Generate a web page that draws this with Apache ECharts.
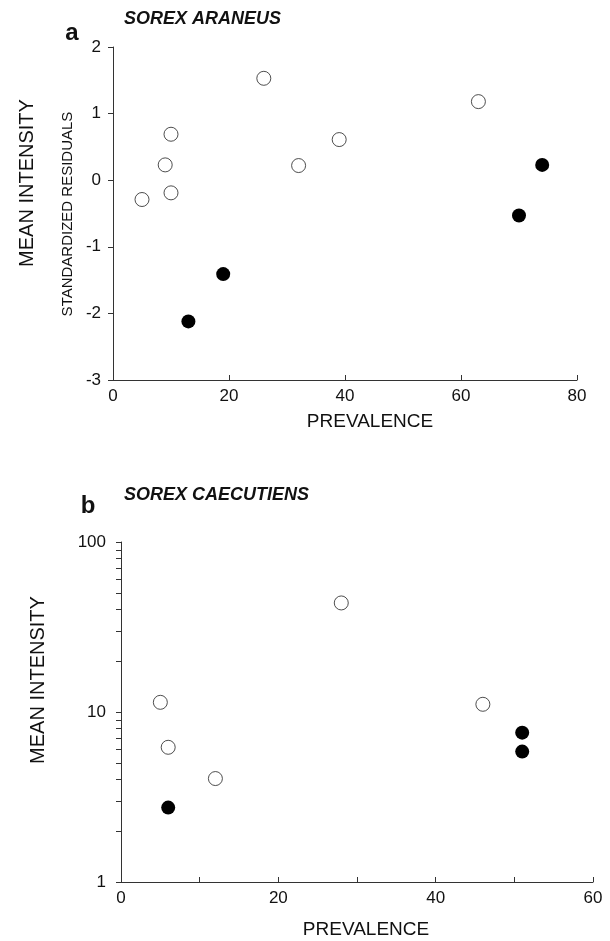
<!DOCTYPE html>
<html>
<head>
<meta charset="utf-8">
<script src="https://cdn.jsdelivr.net/npm/echarts@6/dist/echarts.min.js"></script>
<style>
html, body { margin: 0; padding: 0; background: #fff; }
#main { width: 610px; height: 941px; }
</style>
</head>
<body>
<div id="main"></div>
<script>
// a: Sorex araneus  -- [prevalence, standardized residual]
var araneusOpen = [[5, -0.29], [9, 0.23], [10, 0.69], [10, -0.19], [26, 1.53], [32, 0.22], [39, 0.61], [63, 1.18]];
var araneusFilled = [[13, -2.12], [19, -1.41], [70, -0.53], [74, 0.23]];
// b: Sorex caecutiens -- [prevalence, mean intensity]
var caecOpen = [[5, 11.4], [6, 6.2], [12, 4.06], [28, 43.8], [46, 11.1]];
var caecFilled = [[6, 2.74], [51, 7.56], [51, 5.85]];
// tick positions
var logTicks = [1, 2, 3, 4, 5, 6, 7, 8, 9, 10, 20, 30, 40, 50, 60, 70, 80, 90, 100];
var bottomXTicks = [0, 10, 20, 30, 40, 50, 60];

var font = "'Liberation Sans', Arial, sans-serif";
var ink = '#111';

var chart = echarts.init(document.getElementById('main'), null, { renderer: 'canvas' });

function axisBase() {
    return {
        axisLine: { show: true, onZero: false, lineStyle: { color: '#333', width: 1 } },
        splitLine: { show: false },
        axisLabel: { color: ink, fontFamily: font, fontSize: 17 }
    };
}

function openSeries(data, xi, yi) {
    return {
        type: 'scatter', xAxisIndex: xi, yAxisIndex: yi, data: data,
        symbol: 'circle', symbolSize: 14,
        itemStyle: { color: '#fff', borderColor: '#222', borderWidth: 1 }
    };
}
function filledSeries(data, xi, yi) {
    return {
        type: 'scatter', xAxisIndex: xi, yAxisIndex: yi, data: data,
        symbol: 'circle', symbolSize: 14,
        itemStyle: { color: '#000', opacity: 1 }
    };
}

function txt(x, y, s, size, opts) {
    opts = opts || {};
    return {
        type: 'text', x: x, y: y, rotation: opts.rot || 0,
        style: {
            text: s, x: 0, y: 0, fill: ink,
            font: (opts.style || '') + ' ' + (opts.weight || 'normal') + ' ' + size + 'px ' + font,
            align: opts.align || 'center', verticalAlign: 'middle',
            textAlign: opts.align || 'center', textVerticalAlign: 'middle'
        }
    };
}

var xa0 = axisBase();
Object.assign(xa0, {
    type: 'value', gridIndex: 0, min: 0, max: 80, interval: 20,
    axisTick: { show: true, inside: true, length: 5, lineStyle: { color: '#333' } }
});
xa0.axisLabel.margin = 8;

var ya0 = axisBase();
Object.assign(ya0, {
    type: 'value', gridIndex: 0, min: -3, max: 2, interval: 1,
    axisTick: { show: true, inside: false, length: 5, lineStyle: { color: '#333' } }
});
ya0.axisLabel.margin = 12;

var xa1 = axisBase();
Object.assign(xa1, {
    type: 'value', gridIndex: 1, min: 0, max: 60, interval: 20,
    axisTick: { show: true, inside: true, length: 5, customValues: bottomXTicks, lineStyle: { color: '#333' } }
});
xa1.axisLabel.margin = 8;

var ya1 = axisBase();
Object.assign(ya1, {
    type: 'log', logBase: 10, gridIndex: 1, min: 1, max: 100,
    axisTick: { show: true, inside: false, length: 5, customValues: logTicks, lineStyle: { color: '#333' } }
});
ya1.axisLabel.margin = 15;

var option = {
    animation: false,
    backgroundColor: '#fff',
    grid: [
        { left: 113, right: 33, top: 47, height: 333 },
        { left: 121, right: 17, top: 542, height: 340 }
    ],
    xAxis: [xa0, xa1],
    yAxis: [ya0, ya1],
    series: [
        openSeries(araneusOpen, 0, 0),
        filledSeries(araneusFilled, 0, 0),
        openSeries(caecOpen, 1, 1),
        filledSeries(caecFilled, 1, 1)
    ],
    graphic: [
        txt(72, 33, 'a', 24, { weight: 'bold' }),
        txt(124, 19, 'SOREX ARANEUS', 18, { weight: 'bold', style: 'italic', align: 'left' }),
        txt(27, 183, 'MEAN INTENSITY', 20, { rot: Math.PI / 2 }),
        txt(68, 214, 'STANDARDIZED RESIDUALS', 15, { rot: Math.PI / 2 }),
        txt(370, 422, 'PREVALENCE', 19),
        txt(88, 506, 'b', 24, { weight: 'bold' }),
        txt(124, 495, 'SOREX CAECUTIENS', 18, { weight: 'bold', style: 'italic', align: 'left' }),
        txt(38, 680, 'MEAN INTENSITY', 20, { rot: Math.PI / 2 }),
        txt(366, 930, 'PREVALENCE', 19)
    ]
};

chart.setOption(option);
</script>
</body>
</html>
